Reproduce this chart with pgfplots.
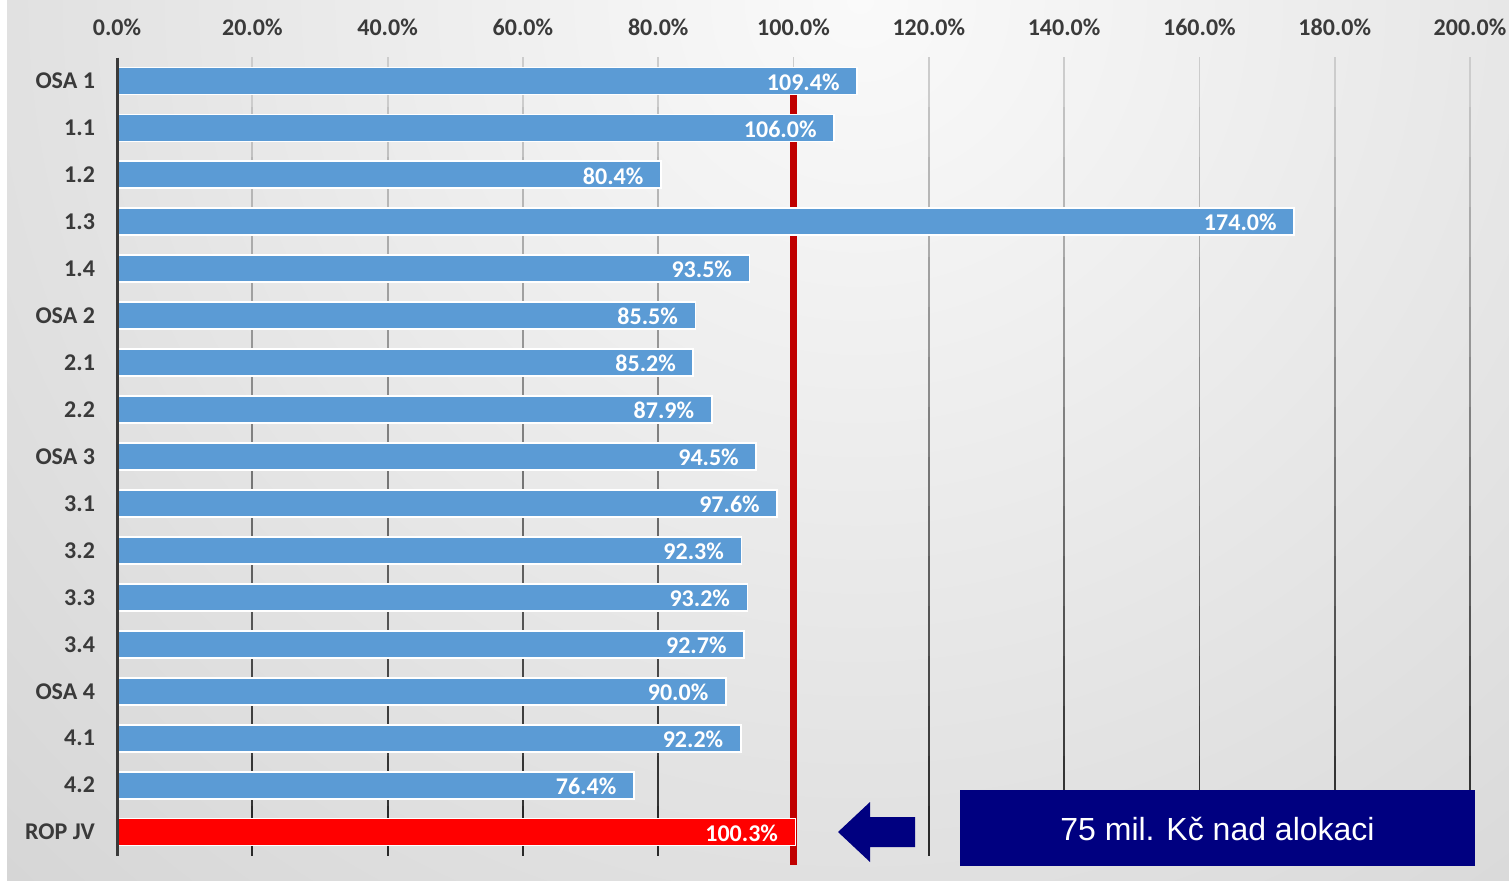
\documentclass[border=0pt]{standalone}
\usepackage{fontspec}
\setmainfont{Carlito}
\newfontfamily\arialfont{Liberation Sans}
\usepackage{pgfplots}
\pgfplotsset{compat=1.18}
\definecolor{barblue}{HTML}{5B9BD5}
\definecolor{ropred}{HTML}{FF0000}
\definecolor{linered}{HTML}{C00000}
\definecolor{navyc}{HTML}{000080}
\definecolor{lbl}{HTML}{3A3A3A}
\begin{document}
\begin{tikzpicture}
\path (0,0) rectangle (754.5pt,440pt);
\begin{scope}
\clip (3.5pt,0) rectangle (754.5pt,440pt);
\shade[inner color=black!2, outer color=black!25] (430pt,440pt) circle (1000pt);
\end{scope}
\foreach \k in {1,...,10}{
 \foreach \s in {0,...,15}{
  \pgfmathsetmacro\c{20+64*\s/15}
  \pgfmathsetmacro\xx{(117+135.3*\k)*0.5}
  \pgfmathsetmacro\ya{411.25-\s*24.9375}
  \pgfmathsetmacro\yb{411.25-(\s+1)*24.9375}
  \draw[black!\c, line width=0.9pt] (\xx pt,\ya pt) -- (\xx pt,\yb pt);
 }}
\begin{axis}[
 at={(58.5pt,12.25pt)}, anchor=south west,
 scale only axis, width=676.5pt, height=399pt,
 xmin=0, xmax=200, ymin=-0.5, ymax=16.5, y dir=reverse,
 clip=false,
 axis line style={draw=none},
 major tick length=0pt,
 xtick={0,20,...,200},
 xticklabels={0.0\%,20.0\%,40.0\%,60.0\%,80.0\%,100.0\%,120.0\%,140.0\%,160.0\%,180.0\%,200.0\%},
 xticklabel pos=upper,
 ytick={0,...,16},
 yticklabels={OSA 1,1.1,1.2,1.3,1.4,OSA 2,2.1,2.2,OSA 3,3.1,3.2,3.3,3.4,OSA 4,4.1,4.2,ROP JV},
 ticklabel style={font=\fontsize{12}{14}\selectfont\bfseries, text=lbl},
 xticklabel style={yshift=7.5pt, inner xsep=0pt},
 yticklabel style={xshift=-7.5pt},
 /pgf/number format/assume math mode=true,
]
\addplot[linered, line width=3.5pt] coordinates {(100,0) (100,16.7)};
\addplot[xbar, bar shift=0pt, bar width=13.5pt, fill=barblue, draw=white, line width=0.9pt,
  point meta=x,
  nodes near coords={\pgfmathprintnumber[fixed,fixed zerofill,precision=1]{\pgfplotspointmeta}\%},
  every node near coord/.append style={anchor=east, xshift=-5pt, yshift=-0.5pt, text=white, font=\fontsize{12}{14}\selectfont\bfseries}]
 coordinates {(109.4,0) (106.0,1) (80.4,2) (174.0,3) (93.5,4) (85.5,5) (85.2,6) (87.9,7) (94.5,8) (97.6,9) (92.3,10) (93.2,11) (92.7,12) (90.0,13) (92.2,14) (76.4,15)};
\addplot[xbar, bar shift=0pt, bar width=13.5pt, fill=ropred, draw=white, line width=0.9pt,
  point meta=x,
  nodes near coords={\pgfmathprintnumber[fixed,fixed zerofill,precision=1]{\pgfplotspointmeta}\%},
  every node near coord/.append style={anchor=east, xshift=-5pt, yshift=-0.5pt, text=white, font=\fontsize{12}{14}\selectfont\bfseries}]
 coordinates {(100.3,16)};
\draw[lbl, line width=1.5pt] (axis cs:0,-0.5) -- (axis cs:0,16.5);
\end{axis}
\fill[navyc] (419pt,24pt) -- (435pt,39pt) -- (435pt,31.5pt) -- (457.5pt,31.5pt) -- (457.5pt,16.5pt) -- (435pt,16.5pt) -- (435pt,9pt) -- cycle;
\fill[navyc] (480pt,7pt) rectangle (737.5pt,45pt);
\node[text=white, font=\arialfont\fontsize{16}{19}\selectfont] at (608.75pt,25.5pt) {75 mil. Kč nad alokaci};
\end{tikzpicture}
\end{document}
